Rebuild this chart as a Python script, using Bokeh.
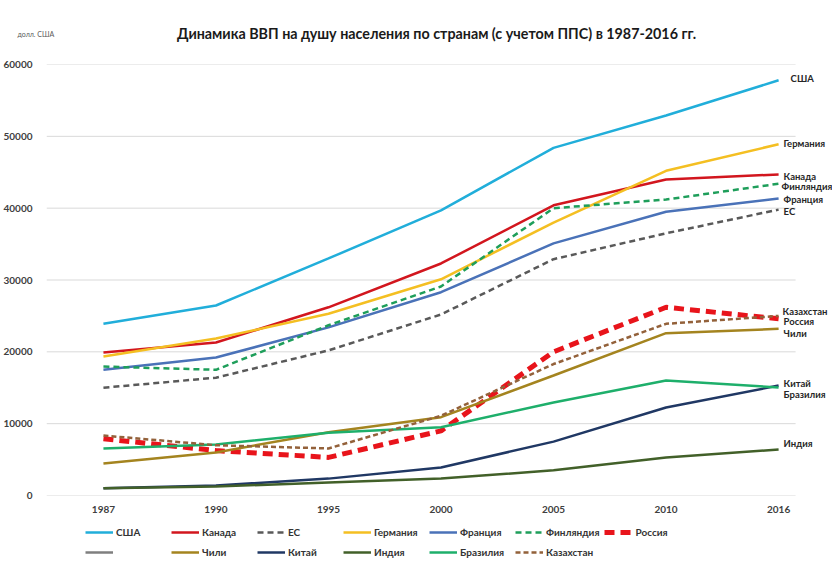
from bokeh.plotting import figure
from bokeh.layouts import column
from bokeh.models import FixedTicker, Legend, LegendItem, ColumnDataSource, Label, Plot
from bokeh.core.properties import value
from bokeh.embed import file_html
from bokeh.resources import INLINE

# ---- data ----
years = ["1987", "1990", "1995", "2000", "2005", "2010", "2016"]
y_ticks = [0, 10000, 20000, 30000, 40000, 50000, 60000]

usa = [23900, 26450, 33000, 39700, 48400, 52900, 57800]
canada = [19900, 21300, 26200, 32300, 40400, 44000, 44700]
eu = [15000, 16400, 20200, 25200, 32900, 36500, 39800]
germany = [19350, 21850, 25300, 30100, 38000, 45200, 48900]
france = [17500, 19200, 23400, 28300, 35100, 39500, 41350]
finland = [17950, 17500, 23700, 29100, 40000, 41200, 43400]
russia = [7900, 6250, 5300, 9000, 20000, 26200, 24600]
other = []  # unlabeled grey legend entry, no data shown
chile = [4450, 6000, 8800, 10900, 16700, 22600, 23200]
china = [1000, 1400, 2350, 3900, 7500, 12250, 15300]
india = [1000, 1250, 1800, 2350, 3500, 5300, 6400]
brazil = [6550, 7100, 8750, 9500, 12950, 16000, 15050]
kazakhstan = [8350, 7000, 6550, 11100, 18300, 23900, 25000]

TITLE = "Динамика ВВП на душу населения по странам (с учетом ППС) в 1987-2016 гг."
UNITS = "долл. США"

FONT = "Lato"

# name, values, color, width, dash, end-label (x_off, y_off)
series = [
    ("США", usa, "#21AEDA", 2.5, "solid", (12, -2)),
    ("Канада", canada, "#D2161E", 2.5, "solid", (5, 2)),
    ("ЕС", eu, "#595959", 2.5, "6 4", (5, 2)),
    ("Германия", germany, "#F4BF22", 2.5, "solid", (5, -1)),
    ("Франция", france, "#4A72B8", 2.5, "solid", (5, 1)),
    ("Финляндия", finland, "#1E9E5A", 2.5, "6 4", (3, 3)),
    ("Россия", russia, "#E8141B", 5, "10 6", (5, 3)),
    (" ", other, "#7F7F7F", 2.5, "solid", None),
    ("Чили", chile, "#A4841F", 2.5, "solid", (5, 5)),
    ("Китай", china, "#203864", 2.5, "solid", (5, -2)),
    ("Индия", india, "#426029", 2.5, "solid", (5, -6)),
    ("Бразилия", brazil, "#1EAF6B", 2.5, "solid", (5, 7)),
    ("Казахстан", kazakhstan, "#93613A", 2.5, "5 3", (4, -4)),
]

n = len(years)
xs = list(range(n))

W = 832
HEAD_H = 50
FRAME_LEFT = 45
CAN_UNALIGN = "frame_align" in Plot.properties()

def strip(height, x_start):
    f = figure(width=W, height=height, x_range=(x_start, W), y_range=(0, height),
               output_backend="svg", toolbar_location=None,
               x_axis_location=None, y_axis_location=None,
               min_border=0, min_border_left=0, min_border_right=0,
               min_border_top=0, min_border_bottom=0)
    f.grid.visible = False
    f.outline_line_color = None
    f.background_fill_color = "white"
    f.border_fill_color = "white"
    if CAN_UNALIGN:
        f.frame_align = False
    return f

strip_x0 = 0 if CAN_UNALIGN else FRAME_LEFT

# ---- header: title + units ----
hf = strip(HEAD_H, strip_x0)
hf.add_layout(Label(x=436, y=HEAD_H - 33, text=TITLE, text_font=FONT,
                    text_font_size="14.3px", text_font_style="bold",
                    text_color="#1a1a1a", text_align="center", text_baseline="middle"))
hf.add_layout(Label(x=max(17, strip_x0), y=HEAD_H - 33, text=UNITS, text_font=FONT,
                    text_font_size="7px", text_color="#595959",
                    text_align="left", text_baseline="middle"))

# ---- main chart ----
X0, X1 = -0.506, 6.479
p = figure(width=W, height=472, x_range=(X0, X1), y_range=(0, 60000),
           output_backend="svg", toolbar_location=None,
           min_border_left=FRAME_LEFT, min_border_right=0, min_border_top=14, min_border_bottom=27)
p.outline_line_color = None
p.background_fill_color = "white"
p.border_fill_color = "white"

p.xaxis.ticker = FixedTicker(ticks=xs)
p.xaxis.major_label_overrides = {i: y for i, y in enumerate(years)}
p.yaxis.ticker = FixedTicker(ticks=y_ticks)
for ax in (p.xaxis, p.yaxis):
    ax.axis_line_color = None
    ax.major_tick_line_color = None
    ax.minor_tick_line_color = None
    ax.major_label_text_font = FONT
    ax.major_label_text_font_size = "10px"
    ax.major_label_text_font_style = "bold"
    ax.major_label_text_color = "#404040"
p.xaxis.major_label_standoff = 4
p.yaxis.major_label_standoff = 8
p.xgrid.visible = False
p.ygrid.visible = False

# horizontal gridlines (limited extent, labels sit to their right)
p.segment(x0=X0, x1=6.151, y0=y_ticks, y1=y_ticks, line_color="#D9D9D9", line_width=1)

for name, vals, color, w, dash, _ in series:
    if vals:
        src = ColumnDataSource(dict(x=xs[:len(vals)], y=vals))
        p.line("x", "y", source=src, line_color=color, line_width=w, line_dash=dash)

# end labels
lab = [s for s in series if s[5] is not None]
lsrc = ColumnDataSource(dict(
    x=[len(s[1]) - 1 for s in lab],
    y=[s[1][-1] for s in lab],
    text=[s[0] for s in lab],
    xo=[s[5][0] for s in lab],
    yo=[s[5][1] for s in lab],
))
p.text("x", "y", text="text", source=lsrc, x_offset="xo", y_offset="yo",
       text_font=value(FONT), text_font_size="9.5px", text_font_style="bold",
       text_color="#262626", text_baseline="middle", text_align="left")

# ---- legend strip ----
lf = strip(39, strip_x0)
leg_r = {}
for name, vals, color, w, dash, _ in series:
    src = ColumnDataSource(dict(x=[W / 2], y=[float("nan")]))
    leg_r[name] = lf.line("x", "y", source=src, line_color=color, line_width=w, line_dash=dash)

leg_x = 85 - strip_x0 if CAN_UNALIGN else 85 - FRAME_LEFT

def make_legend(names, yloc):
    items = [LegendItem(label=nm, renderers=[leg_r[nm]]) for nm in names]
    lg = Legend(items=items, orientation="horizontal", location=(leg_x, yloc),
                label_text_font=FONT, label_text_font_size="10px",
                label_text_font_style="bold", label_text_color="#333333",
                glyph_width=28, glyph_height=16, label_height=16, label_width=50,
                label_standoff=3, spacing=5, padding=0, margin=0,
                border_line_alpha=0, background_fill_alpha=0)
    lf.add_layout(lg)

make_legend([s[0] for s in series[:7]], 21)
make_legend([s[0] for s in series[7:]], 1)

layout = column(hf, p, lf, spacing=0)
open("out.html", "w").write(file_html(layout, INLINE))
